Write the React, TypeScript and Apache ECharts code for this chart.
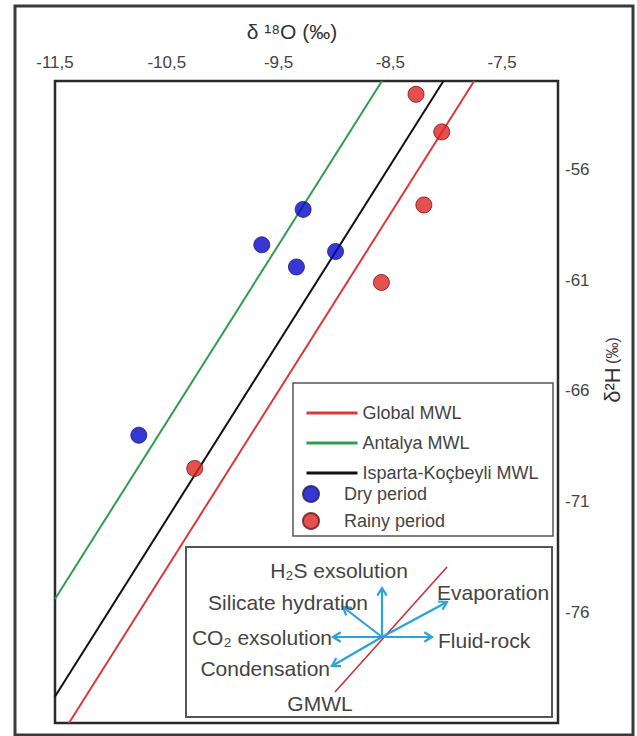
import React, { useEffect, useRef } from "react";
import * as echarts from "echarts";

// ---- data ----
const dryPeriod: [number, number][] = [
  [-9.28, -57.8],
  [-9.65, -59.4],
  [-9.34, -60.4],
  [-8.99, -59.7],
  [-10.75, -68.0],
];
const rainyPeriod: [number, number][] = [
  [-8.27, -52.6],
  [-8.04, -54.3],
  [-8.2, -57.6],
  [-8.58, -61.1],
  [-10.25, -69.5],
];
const globalMWL: [number, number][] = [
  [-11.375, -81],
  [-7.75, -52],
];
const antalyaMWL: [number, number][] = [
  [-11.5, -75.4],
  [-8.575, -52],
];
const ispartaMWL: [number, number][] = [
  [-11.5, -79.8],
  [-8.025, -52],
];
const xTickLabels = [-11.5, -10.5, -9.5, -8.5, -7.5];
const yTickLabels = [-56, -61, -66, -71, -76];
const lineNames = ["Global MWL", "Antalya MWL", "Isparta-Koçbeyli MWL"];
const pointNames = ["Dry period", "Rainy period"];

const FONT = "Liberation Sans, Arial, sans-serif";
const ARROW = "#2ba2d8";

function fmt(list: number[]) {
  return (v: number) => {
    const t = list.find((k) => Math.abs(k - v) < 1e-6);
    return t === undefined ? "" : String(t).replace(".", ",");
  };
}

function arrow(cx: number, cy: number, x2: number, y2: number) {
  const a = Math.atan2(y2 - cy, x2 - cx);
  const L = 9;
  const p = 0.55;
  return [
    {
      type: "line",
      z: 7,
      shape: { x1: cx, y1: cy, x2, y2 },
      style: { stroke: ARROW, lineWidth: 2.2 },
    },
    {
      type: "polyline",
      z: 7,
      shape: {
        points: [
          [x2 - L * Math.cos(a - p), y2 - L * Math.sin(a - p)],
          [x2, y2],
          [x2 - L * Math.cos(a + p), y2 - L * Math.sin(a + p)],
        ],
      },
      style: { stroke: ARROW, lineWidth: 2.2, fill: "none" },
    },
  ];
}

function label(text: string, x: number, y: number, align: string) {
  return {
    type: "text",
    z: 8,
    x,
    y,
    style: {
      text,
      align,
      verticalAlign: "middle",
      fontSize: 21,
      fontFamily: FONT,
      fill: "#444",
    },
  };
}

export default function App() {
  const ref = useRef<HTMLDivElement>(null);

  useEffect(() => {
    if (!ref.current) return;
    const chart = echarts.init(ref.current, undefined, { renderer: "svg" });
    const cx = 382;
    const cy = 637;

    const option: any = {
      animation: false,
      backgroundColor: "#fff",
      grid: {
        left: 55,
        right: 79,
        top: 81,
        bottom: 13,
        show: true,
        borderColor: "#2a2a2a",
        borderWidth: 2.5,
        backgroundColor: "transparent",
      },
      xAxis: {
        type: "value",
        position: "top",
        min: -11.5,
        max: -7,
        interval: 0.5,
        axisLine: { show: false },
        axisTick: { show: false },
        splitLine: { show: false },
        axisLabel: {
          formatter: fmt(xTickLabels),
          margin: 10,
          fontSize: 17,
          color: "#444",
          fontFamily: FONT,
        },
      },
      yAxis: {
        type: "value",
        position: "right",
        min: -81,
        max: -52,
        interval: 1,
        axisLine: { show: false },
        axisTick: { show: false },
        splitLine: { show: false },
        axisLabel: {
          formatter: fmt(yTickLabels),
          margin: 7,
          fontSize: 17,
          color: "#444",
          fontFamily: FONT,
        },
      },
      legend: [
        {
          data: lineNames,
          orient: "vertical",
          left: 300,
          top: 399,
          itemWidth: 51,
          itemHeight: 14,
          itemGap: 12,
          selectedMode: false,
          z: 10,
          itemStyle: { opacity: 0 },
          lineStyle: { width: 3 },
          textStyle: { fontSize: 18, color: "#444", fontFamily: FONT },
        },
        {
          data: pointNames,
          orient: "vertical",
          left: 297,
          top: 480,
          itemWidth: 56,
          itemHeight: 16,
          itemGap: 9,
          selectedMode: false,
          z: 10,
          textStyle: { fontSize: 18, color: "#444", fontFamily: FONT },
        },
      ],
      series: [
        {
          name: lineNames[0],
          type: "line",
          data: globalMWL,
          symbol: "none",
          color: "#d8393b",
          lineStyle: { color: "#d8393b", width: 2 },
          z: 2,
        },
        {
          name: lineNames[1],
          type: "line",
          data: antalyaMWL,
          symbol: "none",
          color: "#2e9e4e",
          lineStyle: { color: "#2e9e4e", width: 2 },
          z: 2,
        },
        {
          name: lineNames[2],
          type: "line",
          data: ispartaMWL,
          symbol: "none",
          color: "#111",
          lineStyle: { color: "#111", width: 2 },
          z: 2,
        },
        {
          name: pointNames[0],
          type: "scatter",
          data: dryPeriod,
          symbolSize: 16,
          itemStyle: { color: "#0505c8", borderColor: "#20206a", borderWidth: 1 },
          z: 3,
        },
        {
          name: pointNames[1],
          type: "scatter",
          data: rainyPeriod,
          symbolSize: 16,
          itemStyle: { color: "#dd2424", borderColor: "#701414", borderWidth: 1 },
          z: 3,
        },
      ],
      graphic: [
        {
          type: "rect",
          z: 1,
          shape: { x: 15, y: 6, width: 618, height: 729 },
          style: { fill: "none", stroke: "#3a3a3a", lineWidth: 3 },
        },
        {
          type: "text",
          z: 5,
          x: 292,
          y: 31,
          style: {
            text: "δ ¹⁸O (‰)",
            align: "center",
            verticalAlign: "middle",
            fontSize: 21,
            fontFamily: FONT,
            fill: "#333",
          },
        },
        {
          type: "text",
          z: 5,
          x: 612,
          y: 370,
          rotation: Math.PI / 2,
          style: {
            text: "{a|δ²H} {b|(‰)}",
            align: "center",
            verticalAlign: "middle",
            fontFamily: FONT,
            fill: "#333",
            rich: {
              a: { fontSize: 22, fontFamily: FONT, fill: "#333" },
              b: { fontSize: 16, fontFamily: FONT, fill: "#333" },
            },
          },
        },
        {
          type: "rect",
          z: 5,
          shape: { x: 293, y: 383, width: 260, height: 153 },
          style: { fill: "#fff", stroke: "#555", lineWidth: 1.5 },
        },
        {
          type: "rect",
          z: 5,
          shape: { x: 186, y: 547, width: 366, height: 170 },
          style: { fill: "#fff", stroke: "#555", lineWidth: 2 },
        },
        {
          type: "line",
          z: 6,
          shape: { x1: 335, y1: 692, x2: 447, y2: 567 },
          style: { stroke: "#c8303a", lineWidth: 1.6 },
        },
        ...arrow(cx, cy, 382, 588),
        ...arrow(cx, cy, 343, 607),
        ...arrow(cx, cy, 333, 637),
        ...arrow(cx, cy, 332, 666),
        ...arrow(cx, cy, 447, 602),
        ...arrow(cx, cy, 432, 637),
        label("H₂S exsolution", 339, 570, "center"),
        label("Silicate hydration", 368, 602, "right"),
        label("CO₂ exsolution", 332, 637, "right"),
        label("Condensation", 330, 668, "right"),
        label("Evaporation", 437, 592, "left"),
        label("Fluid-rock", 438, 640, "left"),
        label("GMWL", 320, 703, "center"),
      ],
    };

    chart.setOption(option);
    return () => chart.dispose();
  }, []);

  return (
    <div
      ref={ref}
      style={{
        position: "fixed",
        left: 0,
        top: 0,
        width: 637,
        height: 736,
        background: "#fff",
      }}
    />
  );
}
